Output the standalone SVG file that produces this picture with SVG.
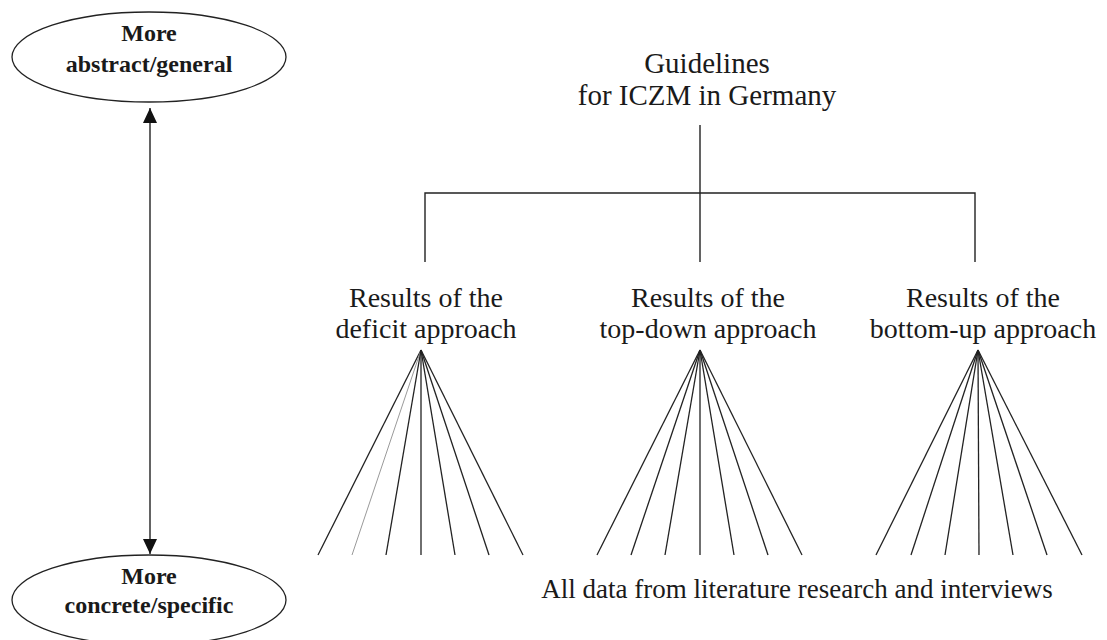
<svg xmlns="http://www.w3.org/2000/svg" width="1107" height="640" viewBox="0 0 1107 640">
  <style>
    .lbl { font-family: "Liberation Serif", "Times New Roman", serif; fill: #1a1a1a; text-anchor: middle; }
    .big { font-size: 29px; }
    .mid { font-size: 28px; }
    .bold { font-size: 24px; font-weight: bold; }
    .shape { fill: #fff; stroke: #222; stroke-width: 1.3; }
    .wire { stroke: #222; stroke-width: 1.4; fill: none; }
    .fan line { stroke: #222; stroke-width: 1.3; }
    .fan line.faint { stroke: #999; stroke-width: 1; }
  </style>
  <defs>
    <marker id="head" viewBox="0 0 15 14" refX="15" refY="7" markerWidth="15" markerHeight="14" markerUnits="userSpaceOnUse" orient="auto-start-reverse">
      <path d="M0,0 L15,7 L0,14 Z" fill="#111"/>
    </marker>
  </defs>

  <rect width="1107" height="640" fill="#fff"/>

  <!-- abstraction scale on the left -->
  <g id="node-abstract">
    <ellipse class="shape" cx="149" cy="57" rx="137" ry="45"/>
    <text class="lbl bold" x="149" y="41">More</text>
    <text class="lbl bold" x="149" y="72">abstract/general</text>
  </g>
  <g id="node-concrete">
    <ellipse class="shape" cx="149" cy="600" rx="137" ry="45"/>
    <text class="lbl bold" x="149" y="584">More</text>
    <text class="lbl bold" x="149" y="613">concrete/specific</text>
  </g>

  <!-- hierarchy labels -->
  <g id="node-guidelines">
    <text class="lbl big" x="707" y="73">Guidelines</text>
    <text class="lbl big" x="707" y="105">for ICZM in Germany</text>
  </g>
  <g id="node-deficit">
    <text class="lbl mid" x="426" y="307">Results of the</text>
    <text class="lbl mid" x="426" y="338">deficit approach</text>
  </g>
  <g id="node-topdown">
    <text class="lbl mid" x="708" y="307">Results of the</text>
    <text class="lbl mid" x="708" y="338">top-down approach</text>
  </g>
  <g id="node-bottomup">
    <text class="lbl mid" x="983" y="307">Results of the</text>
    <text class="lbl mid" x="983" y="338">bottom-up approach</text>
  </g>
  <g id="node-data">
    <text class="lbl big" x="797" y="598" style="font-size:27px">All data from literature research and interviews</text>
  </g>

  <!-- connectors -->
  <g id="connectors">
    <line class="wire" x1="150" y1="108" x2="150" y2="554" marker-start="url(#head)" marker-end="url(#head)"/>
    <path class="wire" d="M700,125 V262 M425,262 V193 H975 V262"/>
    <g class="fan">
      <line x1="421" y1="350" x2="318" y2="555"/>
      <line class="faint" x1="421" y1="350" x2="352" y2="555"/>
      <line x1="421" y1="350" x2="386" y2="555"/>
      <line x1="421" y1="350" x2="421" y2="555"/>
      <line x1="421" y1="350" x2="455" y2="555"/>
      <line x1="421" y1="350" x2="489" y2="555"/>
      <line x1="421" y1="350" x2="523" y2="555"/>
    </g>
    <g class="fan">
      <line x1="700" y1="350" x2="597" y2="555"/>
      <line x1="700" y1="350" x2="631" y2="555"/>
      <line x1="700" y1="350" x2="665" y2="555"/>
      <line x1="700" y1="350" x2="700" y2="555"/>
      <line x1="700" y1="350" x2="734" y2="555"/>
      <line x1="700" y1="350" x2="768" y2="555"/>
      <line x1="700" y1="350" x2="802" y2="555"/>
    </g>
    <g class="fan">
      <line x1="978" y1="350" x2="876" y2="555"/>
      <line x1="978" y1="350" x2="911" y2="555"/>
      <line x1="978" y1="350" x2="945" y2="555"/>
      <line x1="978" y1="350" x2="979" y2="555"/>
      <line x1="978" y1="350" x2="1013" y2="555"/>
      <line x1="978" y1="350" x2="1047" y2="555"/>
      <line x1="978" y1="350" x2="1082" y2="555"/>
    </g>
  </g>
</svg>
